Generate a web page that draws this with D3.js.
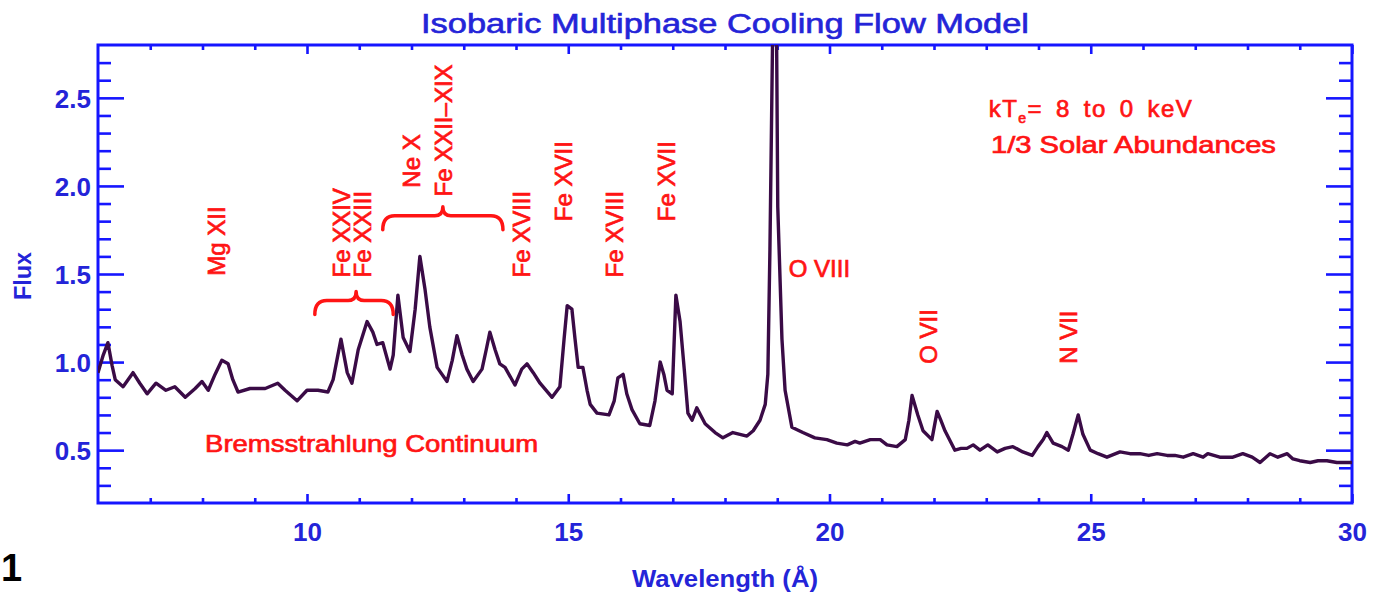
<!DOCTYPE html>
<html>
<head>
<meta charset="utf-8">
<script src="https://cdn.jsdelivr.net/npm/d3@7"></script>
<style>
  html, body { margin: 0; padding: 0; background: #ffffff; }
  svg { display: block; }
  text { font-family: "Liberation Sans", Arial, sans-serif; }
</style>
</head>
<body>
<svg id="chart" width="1382" height="592"></svg>
<script>
// Model spectrum: wavelength (Å) and flux
const wavelength = [
  6.00, 6.10, 6.19, 6.27, 6.33, 6.48, 6.67, 6.80, 6.94, 7.11,
  7.30, 7.47, 7.67, 7.86, 7.99, 8.11, 8.24, 8.37, 8.49, 8.58,
  8.68, 8.91, 9.20, 9.44, 9.58, 9.81, 10.00, 10.21, 10.40, 10.50,
  10.65, 10.77, 10.86, 10.98, 11.15, 11.26, 11.34, 11.45, 11.59, 11.65,
  11.74, 11.84, 11.97, 12.07, 12.16, 12.26, 12.35, 12.49, 12.68, 12.78,
  12.87, 12.97, 13.06, 13.18, 13.35, 13.43, 13.50, 13.60, 13.69, 13.79,
  13.98, 14.11, 14.21, 14.33, 14.46, 14.69, 14.84, 14.92, 14.98, 15.07,
  15.13, 15.19, 15.28, 15.36, 15.42, 15.55, 15.78, 15.88, 15.95, 16.05,
  16.12, 16.22, 16.37, 16.56, 16.66, 16.76, 16.83, 16.89, 16.99, 17.06,
  17.14, 17.22, 17.29, 17.37, 17.46, 17.62, 17.81, 17.96, 18.15, 18.42,
  18.54, 18.67, 18.77, 18.82, 18.86, 18.96, 19.01, 19.09, 19.15, 19.28,
  19.49, 19.72, 19.95, 20.14, 20.34, 20.49, 20.58, 20.78, 20.97, 21.10,
  21.29, 21.45, 21.52, 21.58, 21.69, 21.79, 21.96, 22.06, 22.13, 22.21,
  22.40, 22.52, 22.63, 22.75, 22.88, 23.03, 23.21, 23.36, 23.51, 23.70,
  23.88, 23.99, 24.09, 24.16, 24.28, 24.45, 24.57, 24.66, 24.76, 24.85,
  24.99, 25.14, 25.31, 25.56, 25.75, 25.94, 26.11, 26.27, 26.46, 26.61,
  26.77, 26.96, 27.15, 27.24, 27.47, 27.72, 27.91, 28.09, 28.24, 28.43,
  28.58, 28.76, 28.87, 29.00, 29.20, 29.35, 29.52, 29.71, 29.90, 30.00
];
const flux = [
  0.94, 1.04, 1.11, 0.98, 0.90, 0.86, 0.94, 0.88, 0.82, 0.88,
  0.84, 0.86, 0.80, 0.85, 0.89, 0.84, 0.93, 1.01, 0.99, 0.90,
  0.83, 0.85, 0.85, 0.88, 0.84, 0.78, 0.84, 0.84, 0.83, 0.90,
  1.13, 0.94, 0.88, 1.07, 1.23, 1.17, 1.10, 1.11, 0.96, 1.04,
  1.38, 1.14, 1.06, 1.30, 1.60, 1.41, 1.20, 0.97, 0.89, 1.01,
  1.15, 1.04, 0.96, 0.89, 0.96, 1.07, 1.17, 1.07, 0.99, 0.97,
  0.87, 0.96, 0.99, 0.94, 0.88, 0.80, 0.86, 1.13, 1.32, 1.30,
  1.13, 0.97, 0.97, 0.84, 0.76, 0.71, 0.70, 0.78, 0.91, 0.93,
  0.82, 0.73, 0.65, 0.64, 0.78, 1.00, 0.93, 0.84, 0.82, 1.38,
  1.23, 0.96, 0.71, 0.67, 0.74, 0.65, 0.60, 0.57, 0.60, 0.58,
  0.61, 0.67, 0.76, 0.93, 1.64, 4.00, 1.88, 1.13, 0.84, 0.63,
  0.60, 0.57, 0.56, 0.54, 0.53, 0.55, 0.54, 0.56, 0.56, 0.53,
  0.52, 0.56, 0.67, 0.81, 0.70, 0.61, 0.56, 0.72, 0.67, 0.61,
  0.50, 0.51, 0.51, 0.53, 0.50, 0.53, 0.49, 0.51, 0.52, 0.49,
  0.47, 0.52, 0.56, 0.60, 0.54, 0.52, 0.50, 0.59, 0.70, 0.59,
  0.50, 0.48, 0.46, 0.49, 0.48, 0.48, 0.47, 0.48, 0.47, 0.47,
  0.46, 0.48, 0.46, 0.48, 0.46, 0.46, 0.48, 0.46, 0.43, 0.48,
  0.46, 0.48, 0.45, 0.44, 0.43, 0.44, 0.44, 0.43, 0.43, 0.43
];

// Axis ticks and labels
const xMajorTicks = [10, 15, 20, 25, 30];
const xMinorTicks = [7, 8, 9, 11, 12, 13, 14, 16, 17, 18, 19, 21, 22, 23, 24, 26, 27, 28, 29];
const yMajorTicks = [0.5, 1.0, 1.5, 2.0, 2.5];
const yMinorTicks = [0.3, 0.4, 0.6, 0.7, 0.8, 0.9, 1.1, 1.2, 1.3, 1.4, 1.6, 1.7, 1.8, 1.9, 2.1, 2.2, 2.3, 2.4, 2.6, 2.7];

// Line identifications (vertical labels), anchored at wavelength / flux
const lineLabels = ["Mg XII", "Fe XXIV", "Fe XXIII", "Ne X", "Fe XXII\u2013XIX", "Fe XVIII", "Fe XVII", "Fe XVIII", "Fe XVII", "O VII", "N VII"];
const lineLabelWave = [8.43, 10.82, 11.22, 12.16, 12.78, 14.27, 15.07, 16.05, 17.04, 22.06, 24.74];
const lineLabelFlux = [1.49, 1.48, 1.48, 1.99, 1.94, 1.48, 1.80, 1.48, 1.80, 0.99, 0.99];

// Blended groups marked with braces: [start, peak, end] wavelength and brace level flux
const braceWaves = [[10.15, 10.94, 11.65], [11.45, 12.60, 13.75]];
const braceFlux = [1.35, 1.83];

(function draw() {
  const svg = d3.select("#chart");
  const W = 1382, H = 592;
  const pL = 98, pR = 1352, pT = 45, pB = 503;

  const x = d3.scaleLinear().domain([6, 30]).range([pL, pR]);
  const y = d3.scaleLinear().domain([0.2, 2.8]).range([pB, pT]);

  const AXIS = "#1616ff";
  const TXT = "#2424d8";
  const RED = "#ff1414";
  const LINE = "#3a0b46";

  svg.append("rect").attr("width", W).attr("height", H).attr("fill", "#ffffff");

  // clip region for the spectrum
  svg.append("defs").append("clipPath").attr("id", "plotClip")
    .append("rect").attr("x", pL).attr("y", pT).attr("width", pR - pL).attr("height", pB - pT);

  // ---- axes (ticks point inward on all four sides) ----
  function styleAxis(g) {
    g.select(".domain").remove();
    g.selectAll(".tick line").attr("stroke", AXIS).attr("stroke-width", 2.6);
  }

  // bottom
  svg.append("g").attr("transform", `translate(0,${pB})`)
    .call(d3.axisBottom(x).tickValues(xMinorTicks).tickSize(-5).tickFormat(""))
    .call(styleAxis);
  const gxb = svg.append("g").attr("transform", `translate(0,${pB})`)
    .call(d3.axisBottom(x).tickValues(xMajorTicks).tickSize(-9).tickPadding(20).tickFormat(d3.format("d")))
    .call(styleAxis);
  gxb.selectAll(".tick text").attr("fill", TXT).attr("font-size", 26).attr("font-weight", "bold");

  // top
  svg.append("g").attr("transform", `translate(0,${pT})`)
    .call(d3.axisTop(x).tickValues(xMinorTicks).tickSize(-5).tickFormat(""))
    .call(styleAxis);
  svg.append("g").attr("transform", `translate(0,${pT})`)
    .call(d3.axisTop(x).tickValues(xMajorTicks).tickSize(-9).tickFormat(""))
    .call(styleAxis);

  // left
  svg.append("g").attr("transform", `translate(${pL},0)`)
    .call(d3.axisLeft(y).tickValues(yMinorTicks).tickSize(-13).tickFormat(""))
    .call(styleAxis);
  const gyl = svg.append("g").attr("transform", `translate(${pL},0)`)
    .call(d3.axisLeft(y).tickValues(yMajorTicks).tickSize(-26).tickPadding(7).tickFormat(d3.format(".1f")))
    .call(styleAxis);
  gyl.selectAll(".tick text").attr("fill", TXT).attr("font-size", 26).attr("font-weight", "bold").attr("dy", "0.36em");

  // right
  svg.append("g").attr("transform", `translate(${pR},0)`)
    .call(d3.axisRight(y).tickValues(yMinorTicks).tickSize(-13).tickFormat(""))
    .call(styleAxis);
  svg.append("g").attr("transform", `translate(${pR},0)`)
    .call(d3.axisRight(y).tickValues(yMajorTicks).tickSize(-26).tickFormat(""))
    .call(styleAxis);

  // frame
  svg.append("rect")
    .attr("x", pL).attr("y", pT).attr("width", pR - pL).attr("height", pB - pT)
    .attr("fill", "none").attr("stroke", AXIS).attr("stroke-width", 3);

  // ---- spectrum ----
  const spectrum = wavelength.map((w, i) => [w, flux[i]]);
  svg.append("path")
    .datum(spectrum)
    .attr("clip-path", "url(#plotClip)")
    .attr("fill", "none")
    .attr("stroke", LINE)
    .attr("stroke-width", 3.4)
    .attr("stroke-linejoin", "round")
    .attr("d", d3.line().x(d => x(d[0])).y(d => y(d[1])));

  // ---- titles ----
  svg.append("text")
    .attr("x", (pL + pR) / 2).attr("y", 33)
    .attr("text-anchor", "middle")
    .attr("fill", TXT).attr("stroke", TXT).attr("stroke-width", 0.6)
    .attr("font-size", 27)
    .attr("textLength", 608).attr("lengthAdjust", "spacingAndGlyphs")
    .text("Isobaric Multiphase Cooling Flow Model");

  svg.append("text")
    .attr("x", (pL + pR) / 2).attr("y", 587)
    .attr("text-anchor", "middle")
    .attr("fill", TXT).attr("font-size", 24).attr("font-weight", "bold")
    .attr("textLength", 186).attr("lengthAdjust", "spacingAndGlyphs")
    .text("Wavelength (\u00c5)");

  svg.append("text")
    .attr("transform", "translate(31,276) rotate(-90)")
    .attr("text-anchor", "middle")
    .attr("fill", TXT).attr("font-size", 23).attr("font-weight", "bold")
    .attr("textLength", 48).attr("lengthAdjust", "spacingAndGlyphs")
    .text("Flux");

  // ---- annotations ----
  const ann = svg.append("g")
    .attr("fill", RED).attr("stroke", RED).attr("stroke-width", 0.7)
    .attr("font-size", 24);

  ann.selectAll("text.line-id")
    .data(lineLabels)
    .join("text")
    .attr("class", "line-id")
    .attr("transform", (d, i) => `translate(${x(lineLabelWave[i])},${y(lineLabelFlux[i])}) rotate(-90)`)
    .attr("text-anchor", "start")
    .text(d => d);

  ann.append("text")
    .attr("x", x(19.22)).attr("y", y(1.483))
    .text("O VIII");

  ann.append("text")
    .attr("x", x(8.05)).attr("y", y(0.49))
    .attr("textLength", 333).attr("lengthAdjust", "spacingAndGlyphs")
    .text("Bremsstrahlung Continuum");

  const kt = ann.append("text")
    .attr("x", x(23.05)).attr("y", y(2.39))
    .attr("letter-spacing", 1.4).attr("word-spacing", 5);
  kt.append("tspan").text("kT");
  kt.append("tspan").attr("font-size", 14).attr("dy", 6).text("e");
  kt.append("tspan").attr("dy", -6).text("= 8 to 0 keV");

  ann.append("text")
    .attr("x", x(23.09)).attr("y", y(2.187))
    .attr("textLength", 285).attr("lengthAdjust", "spacingAndGlyphs")
    .text("1/3 Solar Abundances");

  // braces over blended line groups
  function bracePath(w0, wm, w1, f) {
    const x0 = x(w0), xm = x(wm), x1 = x(w1), yb = y(f);
    const drop = 14, rise = 9, r = 8;
    return `M${x0},${yb + drop} Q${x0},${yb} ${x0 + r * 1.5},${yb}` +
           ` L${xm - r},${yb} Q${xm},${yb} ${xm},${yb - rise}` +
           ` Q${xm},${yb} ${xm + r},${yb} L${x1 - r * 1.5},${yb}` +
           ` Q${x1},${yb} ${x1},${yb + drop}`;
  }
  svg.append("g").selectAll("path")
    .data(braceWaves)
    .join("path")
    .attr("d", (d, i) => bracePath(d[0], d[1], d[2], braceFlux[i]))
    .attr("fill", "none").attr("stroke", RED).attr("stroke-width", 3.5)
    .attr("stroke-linejoin", "round").attr("stroke-linecap", "round");

  // panel number
  svg.append("text")
    .attr("x", 1).attr("y", 581)
    .attr("fill", "#000").attr("font-size", 38).attr("font-weight", "bold")
    .text("1");
})();
</script>
</body>
</html>
